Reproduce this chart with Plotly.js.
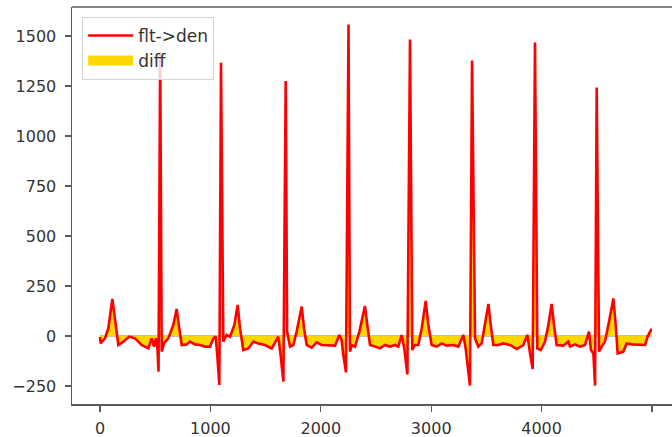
<!DOCTYPE html>
<html>
<head>
<meta charset="utf-8">
<script src="https://cdn.plot.ly/plotly-3.0.1.min.js"></script>
<style>html,body{margin:0;padding:0;background:#fff;overflow:hidden}</style>
</head>
<body>
<div id="chart" style="width:672px;height:437px"></div>
<script>
// sample index of the filtered signal
const sampleX = [0,6,45,75,112,136,166,211,266,317,377,438,468,489,507,520,530,545,559,580,619,664,694,718,740,785,815,860,906,951,996,1027,1048,1062,1081,1096,1117,1147,1178,1217,1247,1268,1298,1344,1389,1434,1495,1555,1591,1615,1636,1661,1682,1695,1721,1751,1781,1827,1848,1872,1917,1963,2008,2068,2129,2168,2189,2204,2228,2251,2264,2280,2310,2349,2400,2421,2446,2491,2536,2582,2627,2672,2702,2732,2756,2784,2808,2829,2853,2883,2914,2950,2974,3004,3049,3095,3140,3200,3246,3291,3312,3351,3370,3397,3427,3457,3487,3518,3539,3563,3608,3653,3714,3774,3834,3871,3895,3919,3940,3961,3992,4031,4061,4091,4112,4136,4197,4242,4257,4303,4348,4393,4429,4447,4469,4484,4499,4520,4544,4574,4611,4650,4671,4689,4740,4770,4816,4891,4937,4960,4991,4999];
// flt->den values
const sampleY = [-5,-37,-12,38,185,72,-45,-28,-3,-12,-45,-62,-12,-53,-12,-60,-178,1420,-78,-35,-12,55,135,38,-45,-42,-28,-42,-45,-53,-53,-12,-3,-95,-245,1366,-28,5,-3,55,155,38,-70,-62,-28,-37,-45,-62,-28,-3,-95,-228,1275,22,-53,-45,22,147,38,-45,-58,-32,-45,-48,-48,5,-20,-95,-182,1558,-78,-45,-53,22,150,55,-45,-53,-62,-45,-53,-45,-53,5,-62,-192,1483,-70,-45,-45,38,175,55,-45,-53,-37,-48,-45,-53,5,-62,-248,1378,-12,-53,-37,55,160,55,-45,-45,-37,-45,-65,-45,5,-87,-165,1467,-62,-70,-28,55,160,55,-45,-48,-28,-53,-42,-53,-45,22,-70,-87,-248,1242,-78,-53,-28,72,188,55,-87,-78,-37,-42,-42,-45,-3,30,28];
// zero baseline of the diff fill
const baseX = [0, 4999];
const baseY = [0, 0];
const xTicks = [0, 1000, 2000, 3000, 4000, 5000];
const yTicks = [-250, 0, 250, 500, 750, 1000, 1250, 1500];

const font = {family: 'DejaVu Sans, sans-serif', size: 16, color: '#333'};
const axisColor = '#5a5a5a';

const traces = [
  {x: baseX, y: baseY, mode: 'lines', line: {color: 'rgba(150,140,105,0.75)', width: 1.6},
   showlegend: false, hoverinfo: 'skip'},
  {x: sampleX, y: sampleY, mode: 'lines', name: 'diff', fill: 'tozeroy',
   fillcolor: '#FFD700', line: {color: 'rgba(0,0,0,0)', width: 0},
   showlegend: false},
  {x: sampleX, y: sampleY, mode: 'lines', name: 'flt->den',
   line: {color: '#FF0000', width: 2.6}, legendgroup: 'a', legendrank: 1},
  // legend entry for the gold fill
  {x: [null], y: [null], mode: 'lines', name: 'diff',
   line: {color: '#FFD700', width: 14}, legendgroup: 'b', legendrank: 2}
];

const layout = {
  width: 672, height: 437,
  margin: {l: 72, r: 0, t: 7, b: 33},
  paper_bgcolor: '#fff', plot_bgcolor: '#fff',
  font: font,
  showlegend: true,
  legend: {x: 0.017, y: 0.975, xanchor: 'left', yanchor: 'top',
           bgcolor: 'rgba(255,255,255,0.8)', bordercolor: '#d5d5d5', borderwidth: 1,
           font: {family: 'DejaVu Sans, sans-serif', size: 17, color: '#333'},
           itemwidth: 45, traceorder: 'grouped', tracegroupgap: 0},
  xaxis: {range: [-253.6, 5181], tickvals: xTicks, ticktext: xTicks.map(String),
          showgrid: false, zeroline: false, showline: true, linecolor: axisColor, linewidth: 1.5,
          ticks: 'outside', ticklen: 6, tickwidth: 1.3, tickcolor: axisColor,
          tickfont: font, ticklabelstandoff: 3},
  yaxis: {range: [-340, 1645], tickvals: yTicks,
          showgrid: false, zeroline: false, showline: true, linecolor: axisColor, linewidth: 1.5,
          ticks: 'outside', ticklen: 6, tickwidth: 1.3, tickcolor: axisColor,
          tickfont: font, ticklabelstandoff: 5},
  shapes: [{type: 'line', xref: 'paper', yref: 'paper', x0: 0, x1: 1, y0: 1, y1: 1,
            line: {color: axisColor, width: 1.5}}]
};

Plotly.newPlot('chart', traces, layout, {displayModeBar: false, staticPlot: true});
</script>
</body>
</html>
